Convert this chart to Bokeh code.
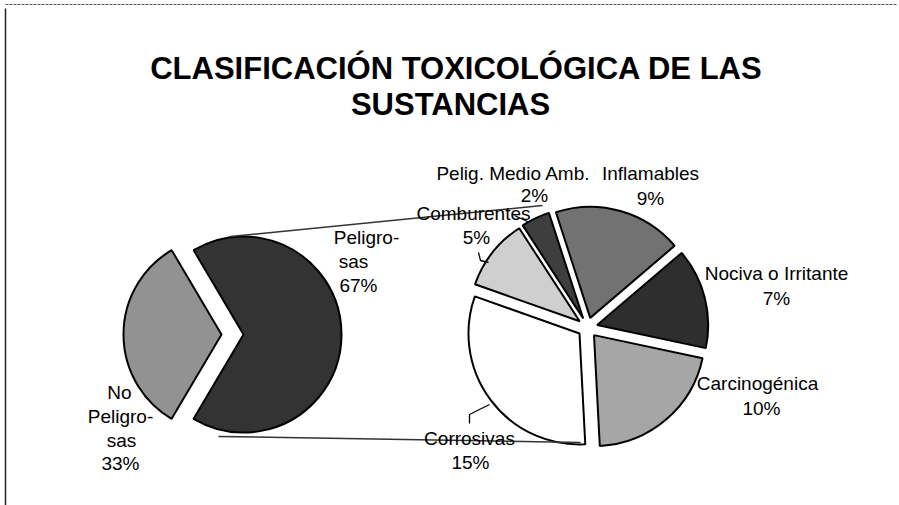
import math
from bokeh.plotting import figure
from bokeh.models import Range1d, ColumnDataSource
from bokeh.embed import file_html
from bokeh.resources import INLINE
from bokeh.core.properties import value

# ---------------- data ----------------
title_lines = ["CLASIFICACIÓN TOXICOLÓGICA DE LAS", "SUSTANCIAS"]

main_names = ["No Peligrosas", "Peligrosas"]
main_label_lines = [["No", "Peligro-", "sas"], ["Peligro-", "sas"]]
main_values = [33, 67]
main_colors = ["#929292", "#333333"]

sub_names = ["Carcinogénica", "Nociva o Irritante", "Inflamables",
             "Pelig. Medio Amb.", "Comburentes", "Corrosivas"]
sub_values = [10, 7, 9, 2, 5, 15]
sub_colors = ["#a6a6a6", "#2e2e2e", "#727272", "#3e3e3e", "#cfcfcf", "#ffffff"]

# ---------------- layout (page pixels; y converted) ----------------
W, H = 899, 505
def Y(py):
    return 505 - py

p = figure(width=W, height=H, output_backend="svg", toolbar_location=None,
           x_range=Range1d(0, W), y_range=Range1d(Y(H), Y(0)),
           min_border=0)
p.axis.visible = False
p.grid.visible = False
p.outline_line_color = None
p.background_fill_color = "white"

FONT = value("Liberation Sans")

def pie(values, start_deg, cx, cy, r, explode, colors):
    total = float(sum(values))
    a = math.radians(start_deg)
    d = dict(x=[], y=[], s=[], e=[], c=[])
    for v, ex, col in zip(values, explode, colors):
        span = 2 * math.pi * v / total
        mid = a + span / 2
        d["x"].append(cx + ex * math.cos(mid))
        d["y"].append(cy + ex * math.sin(mid))
        d["s"].append(a)
        d["e"].append(a + span)
        d["c"].append(col)
        a += span
    src = ColumnDataSource(d)
    p.wedge(x="x", y="y", radius=r, start_angle="s", end_angle="e",
            fill_color="c", line_color="black", line_width=2, source=src)

# left pie: "No Peligrosas" centred on the left side
left_start = 180 - 0.5 * 360 * main_values[0] / sum(main_values)
pie(main_values, left_start, 243, Y(334), 98, [22, 0], main_colors)

# right pie (breakdown of Peligrosas)
pie(sub_values, -87, 587, Y(327), 111, [10] * len(sub_values), sub_colors)

# connector lines between the pies
p.line([230, 542], [Y(236), Y(205)], line_color="#333333", line_width=1.5)
p.line([218, 580], [Y(436), Y(442)], line_color="#333333", line_width=1.5)

# leader lines
p.line([478, 480, 488], [Y(252), Y(260), Y(262)], line_color="black", line_width=1.3)
p.line([469, 469, 489], [Y(423), Y(414), Y(404)], line_color="black", line_width=1.3)
p.line([514, 529], [Y(215), Y(222)], line_color="black", line_width=1.3)

# frame
p.line([5, 5], [Y(8), Y(505)], line_color="#222222", line_width=1.5)
p.line([5, 897], [Y(4), Y(4)], line_color="#555555", line_width=1, line_dash="3 1")

# title
p.text(x=[456, 450], y=[Y(68), Y(104)], text=title_lines, text_font=FONT,
       text_font_size="31px", text_font_style="bold", text_align="center",
       text_baseline="middle", text_color="black")

# labels
lab_x, lab_y, lab_t = [], [], []
# No Peligrosas
for t, xx, yy in zip(main_label_lines[0] + [f"{main_values[0]}%"],
                     [119, 120, 121, 120], [392, 416, 440, 463]):
    lab_x.append(xx); lab_y.append(Y(yy)); lab_t.append(t)
# Peligrosas
for t, xx, yy in zip(main_label_lines[1] + [f"{main_values[1]}%"],
                     [366, 353, 358], [237, 261, 285]):
    lab_x.append(xx); lab_y.append(Y(yy)); lab_t.append(t)

sub_pos = {
    "Carcinogénica": ((757, 383), (761, 408)),
    "Nociva o Irritante": ((776, 273), (776, 298)),
    "Inflamables": ((650, 173), (650, 198)),
    "Pelig. Medio Amb.": ((513, 173), (534, 195)),
    "Comburentes": ((473, 213), (476, 237)),
    "Corrosivas": ((469, 438), (470, 462)),
}
for name, v in zip(sub_names, sub_values):
    (nx, ny), (vx, vy) = sub_pos[name]
    lab_x += [nx, vx]; lab_y += [Y(ny), Y(vy)]; lab_t += [name, f"{v}%"]

p.text(x=lab_x, y=lab_y, text=lab_t, text_font=FONT, text_font_size="19px",
       text_align="center", text_baseline="middle", text_color="black")

open("out.html", "w").write(file_html(p, INLINE))
